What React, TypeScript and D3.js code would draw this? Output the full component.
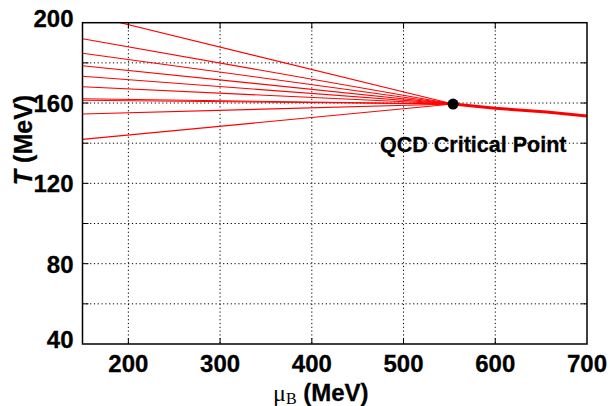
import React from 'react';
import * as d3 from 'd3';

// phase diagram data
const criticalPoint = { mu: 554, T: 159.5 };
const fanStartMu = 150;
const fanStartT = [204.6, 192.0, 184.8, 178.6, 173.3, 168.1, 162.1, 161.4, 154.5, 141.9];
const crossoverLine = [
  { mu: 554, T: 159.5 },
  { mu: 600, T: 157.4 },
  { mu: 656, T: 155.5 },
  { mu: 700, T: 153.5 },
];
const xTicks = [200, 300, 400, 500, 600, 700];
const yTicks = [40, 80, 120, 160, 200];
const yGrid = [60, 80, 100, 120, 140, 160, 180];
const xGrid = [200, 300, 400, 500, 600];

const App = () => {
  const width = 613;
  const height = 406;
  const m = { top: 22.7, right: 26, bottom: 62, left: 82.5 };
  const iw = width - m.left - m.right;
  const ih = height - m.top - m.bottom;

  const x = d3.scaleLinear().domain([150, 700]).range([0, iw]);
  const y = d3.scaleLinear().domain([40, 200]).range([ih, 0]);

  const line = d3
    .line<{ mu: number; T: number }>()
    .x((d) => x(d.mu))
    .y((d) => y(d.T));

  const font = '"Liberation Sans", Arial, sans-serif';
  const serif = '"Liberation Serif", "Times New Roman", serif';
  const tick = 6;
  // the end labels sit a little inside the axis, like the original export
  const yLabelShift = (v: number) => (v === 40 ? 4.3 : v === 200 ? 4.5 : 9);

  return (
    <svg
      width={width}
      height={height}
      style={{ position: 'absolute', left: 0, top: 0, background: '#fff' }}
      fontFamily={font}
    >
      <defs>
        <clipPath id="plot">
          <rect x={0} y={0} width={iw} height={ih} />
        </clipPath>
      </defs>
      <g transform={'translate(' + m.left + ',' + m.top + ')'}>
        {/* dotted grid */}
        {xGrid.map((v) => (
          <line key={'gx' + v} x1={x(v)} x2={x(v)} y1={0} y2={ih} stroke="#000" strokeWidth={1} strokeDasharray="1.2,2.6" />
        ))}
        {yGrid.map((v) => (
          <line key={'gy' + v} x1={0} x2={iw} y1={y(v)} y2={y(v)} stroke="#000" strokeWidth={1} strokeDasharray="1.2,2.6" />
        ))}

        {/* fan of lines into the critical point */}
        <g clipPath="url(#plot)">
          {fanStartT.map((t, i) => (
            <path
              key={'f' + i}
              d={line([{ mu: fanStartMu, T: t }, criticalPoint]) || ''}
              fill="none"
              stroke="#ff0000"
              strokeWidth={1.1}
            />
          ))}
          <path d={line(crossoverLine) || ''} fill="none" stroke="#ff0000" strokeWidth={3} />
        </g>

        {/* ticks inside */}
        {xGrid.map((v) => (
          <g key={'tx' + v}>
            <line x1={x(v)} x2={x(v)} y1={ih} y2={ih - tick} stroke="#000" />
            <line x1={x(v)} x2={x(v)} y1={0} y2={tick} stroke="#000" />
          </g>
        ))}
        {yGrid.map((v) => (
          <g key={'ty' + v}>
            <line x1={0} x2={tick} y1={y(v)} y2={y(v)} stroke="#000" />
            <line x1={iw} x2={iw - tick} y1={y(v)} y2={y(v)} stroke="#000" />
          </g>
        ))}

        <rect x={0} y={0} width={iw} height={ih} fill="none" stroke="#000" strokeWidth={1.5} />

        <circle cx={x(criticalPoint.mu)} cy={y(criticalPoint.T)} r={5.5} fill="#000" />
        <text
          x={x(criticalPoint.mu) - 73}
          y={y(criticalPoint.T) + 48}
          fontSize={21.5}
          fontWeight="bold"
          stroke="#000"
          strokeWidth={0.3}
          textAnchor="start"
        >
          QCD Critical Point
        </text>

        {/* tick labels */}
        {xTicks.map((v) => (
          <text
            key={'lx' + v}
            x={x(v)}
            y={ih + 28}
            fontSize={24}
            fontWeight="bold"
            stroke="#000"
            strokeWidth={0.3}
            textAnchor="middle"
          >
            {v}
          </text>
        ))}
        {yTicks.map((v) => (
          <text
            key={'ly' + v}
            x={-9}
            y={y(v) + yLabelShift(v)}
            fontSize={24}
            fontWeight="bold"
            stroke="#000"
            strokeWidth={0.3}
            textAnchor="end"
          >
            {v}
          </text>
        ))}

        {/* axis titles */}
        <text x={x(400) + 9} y={ih + 57} fontSize={24} textAnchor="middle">
          <tspan fontFamily={serif}>μ</tspan>
          <tspan fontFamily={serif} fontSize={16} dy={3}>B</tspan>
          <tspan fontWeight="bold" stroke="#000" strokeWidth={0.3} dy={-3}> (MeV)</tspan>
        </text>
        <text
          transform={'translate(' + (-m.left + 32) + ',' + (140 - m.top) + ') rotate(-90)'}
          fontSize={25}
          fontWeight="bold"
          stroke="#000"
          strokeWidth={0.3}
          textAnchor="middle"
        >
          <tspan fontStyle="italic">T</tspan> (MeV)
        </text>
      </g>
    </svg>
  );
};

export default App;
